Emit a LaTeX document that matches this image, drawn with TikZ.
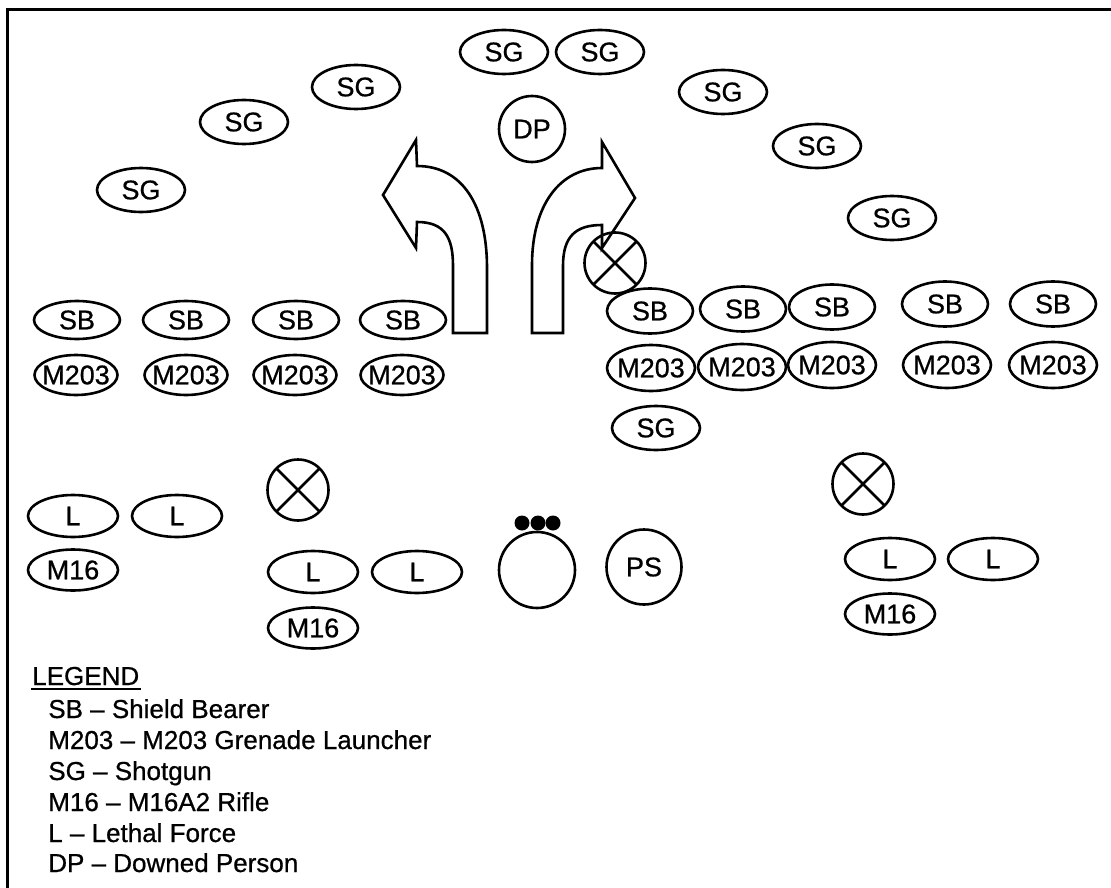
\documentclass[tikz,border=0pt]{standalone}
\usepackage{fontspec}
\setmainfont{Liberation Sans}[FakeBold=0.7]
\usetikzlibrary{shapes.geometric}
\newcommand\lb[1]{\makebox[0pt]{#1}}
\begin{document}
\begin{tikzpicture}[x=1pt,y=-1pt,line width=2.6pt,
  el/.style 2 args={ellipse,draw,minimum width=#1,minimum height=#2,inner sep=0pt,font=\fontsize{27}{30}\selectfont},
  sgu/.style={el={88pt}{44pt}},
  sbl/.style={el={86pt}{38pt}},
  sbr/.style={el={86pt}{45pt}},
  mrl/.style={el={83pt}{40pt}},
  mrr/.style={el={88pt}{46pt}},
  lfu/.style={el={90pt}{42pt}},
  rifle/.style={el={90pt}{41pt}},
  ring/.style={circle,draw,minimum size=#1,inner sep=0pt,font=\fontsize{27}{30}\selectfont},
  xc/.style={circle,draw,minimum size=61pt,inner sep=0pt,
    path picture={\draw (path picture bounding box.north west) -- (path picture bounding box.south east)
                        (path picture bounding box.north east) -- (path picture bounding box.south west);}},
  dot/.style={circle,fill,minimum size=15pt,inner sep=0pt},
  legtxt/.style={anchor=base west,inner sep=0pt,font=\fontsize{26}{30}\selectfont}]
\useasboundingbox (0,0) rectangle (1111,888);
% frame
\draw (7.5,888) -- (7.5,9.5) -- (1111,9.5);
% shotguns
\node[sgu] (sg1) at (504,52) {\lb{SG}};
\node[sgu] (sg2) at (600,52) {\lb{SG}};
\node[sgu] (sg3) at (356,87) {\lb{SG}};
\node[sgu] (sg4) at (244,122) {\lb{SG}};
\node[sgu] (sg5) at (141,190) {\lb{SG}};
\node[sgu] (sg6) at (723,92) {\lb{SG}};
\node[sgu] (sg7) at (817,146) {\lb{SG}};
\node[sgu] (sg8) at (892,218) {\lb{SG}};
\node[sgu] (sg9) at (656,428) {\lb{SG}};
% downed person
\node[ring=66pt] (dp) at (532,129) {\lb{DP}};
% arrows
\draw[line join=miter] (453,333) -- (453,266) .. controls (453,238) and (445,222) .. (417,222)
  -- (416,248) -- (383,195) -- (416,140) -- (417,166)
  .. controls (462,166) and (487,205) .. (487,268) -- (487,333) -- cycle;
\draw[line join=miter] (532,333) -- (532,265) .. controls (532,205) and (560,168) .. (602,168)
  -- (602,142) -- (635,198) -- (602,248) -- (602,225)
  .. controls (575,225) and (563,237) .. (563,266) -- (563,333) -- cycle;
% crossed circles
\node[xc] (x1) at (615,263) {};
\node[xc] (x2) at (298,490) {};
\node[xc] (x3) at (863,484) {};
% left shield bearers and M203
\node[sbl] (sbl1) at (77,320) {\lb{SB}};
\node[sbl] (sbl2) at (186,320) {\lb{SB}};
\node[sbl] (sbl3) at (296,320) {\lb{SB}};
\node[sbl] (sbl4) at (403,320) {\lb{SB}};
\node[mrl] (ml1) at (76,375) {\lb{M203}};
\node[mrl] (ml2) at (186,375) {\lb{M203}};
\node[mrl] (ml3) at (295,375) {\lb{M203}};
\node[mrl] (ml4) at (402,375) {\lb{M203}};
% right shield bearers and M203
\node[sbr] (sbr1) at (650,311) {\lb{SB}};
\node[sbr] (sbr2) at (743,309) {\lb{SB}};
\node[sbr] (sbr3) at (832,307) {\lb{SB}};
\node[sbr] (sbr4) at (945,304) {\lb{SB}};
\node[sbr] (sbr5) at (1053,304) {\lb{SB}};
\node[mrr] (mr1) at (651,368) {\lb{M203}};
\node[mrr] (mr2) at (742,367) {\lb{M203}};
\node[mrr] (mr3) at (832,365) {\lb{M203}};
\node[mrr] (mr4) at (947,365) {\lb{M203}};
\node[mrr] (mr5) at (1053,365) {\lb{M203}};
% lethal force and rifles
\node[lfu] (l1) at (73,516) {\lb{L}};
\node[lfu] (l2) at (177,516) {\lb{L}};
\node[rifle] (r1) at (73,570) {\lb{M16}};
\node[lfu] (l3) at (313,572) {\lb{L}};
\node[lfu] (l4) at (417,572) {\lb{L}};
\node[rifle] (r2) at (313,628) {\lb{M16}};
\node[lfu] (l5) at (890,559) {\lb{L}};
\node[lfu] (l6) at (993,559) {\lb{L}};
\node[rifle] (r3) at (890,614) {\lb{M16}};
% centre
\node[ring=76pt] (big) at (537,570) {};
\node[dot] (d1) at (522,523) {};
\node[dot] (d2) at (538,523) {};
\node[dot] (d3) at (553,523) {};
\node[ring=75pt] (ps) at (644,567) {\lb{PS}};
% legend
\node[legtxt] (leg) at (31,685) {LEGEND};
\draw[line width=2pt] ([yshift=-4pt]leg.base west) -- ([yshift=-4pt]leg.base east);
\node[legtxt] (leg1) at (47,718) {SB – Shield Bearer};
\node[legtxt] (leg2) at (47,749) {M203 – M203 Grenade Launcher};
\node[legtxt] (leg3) at (47,780) {SG – Shotgun};
\node[legtxt] (leg4) at (47,811) {M16 – M16A2 Rifle};
\node[legtxt] (leg5) at (47,842) {L – Lethal Force};
\node[legtxt] (leg6) at (47,872) {DP – Downed Person};
\end{tikzpicture}
\end{document}
